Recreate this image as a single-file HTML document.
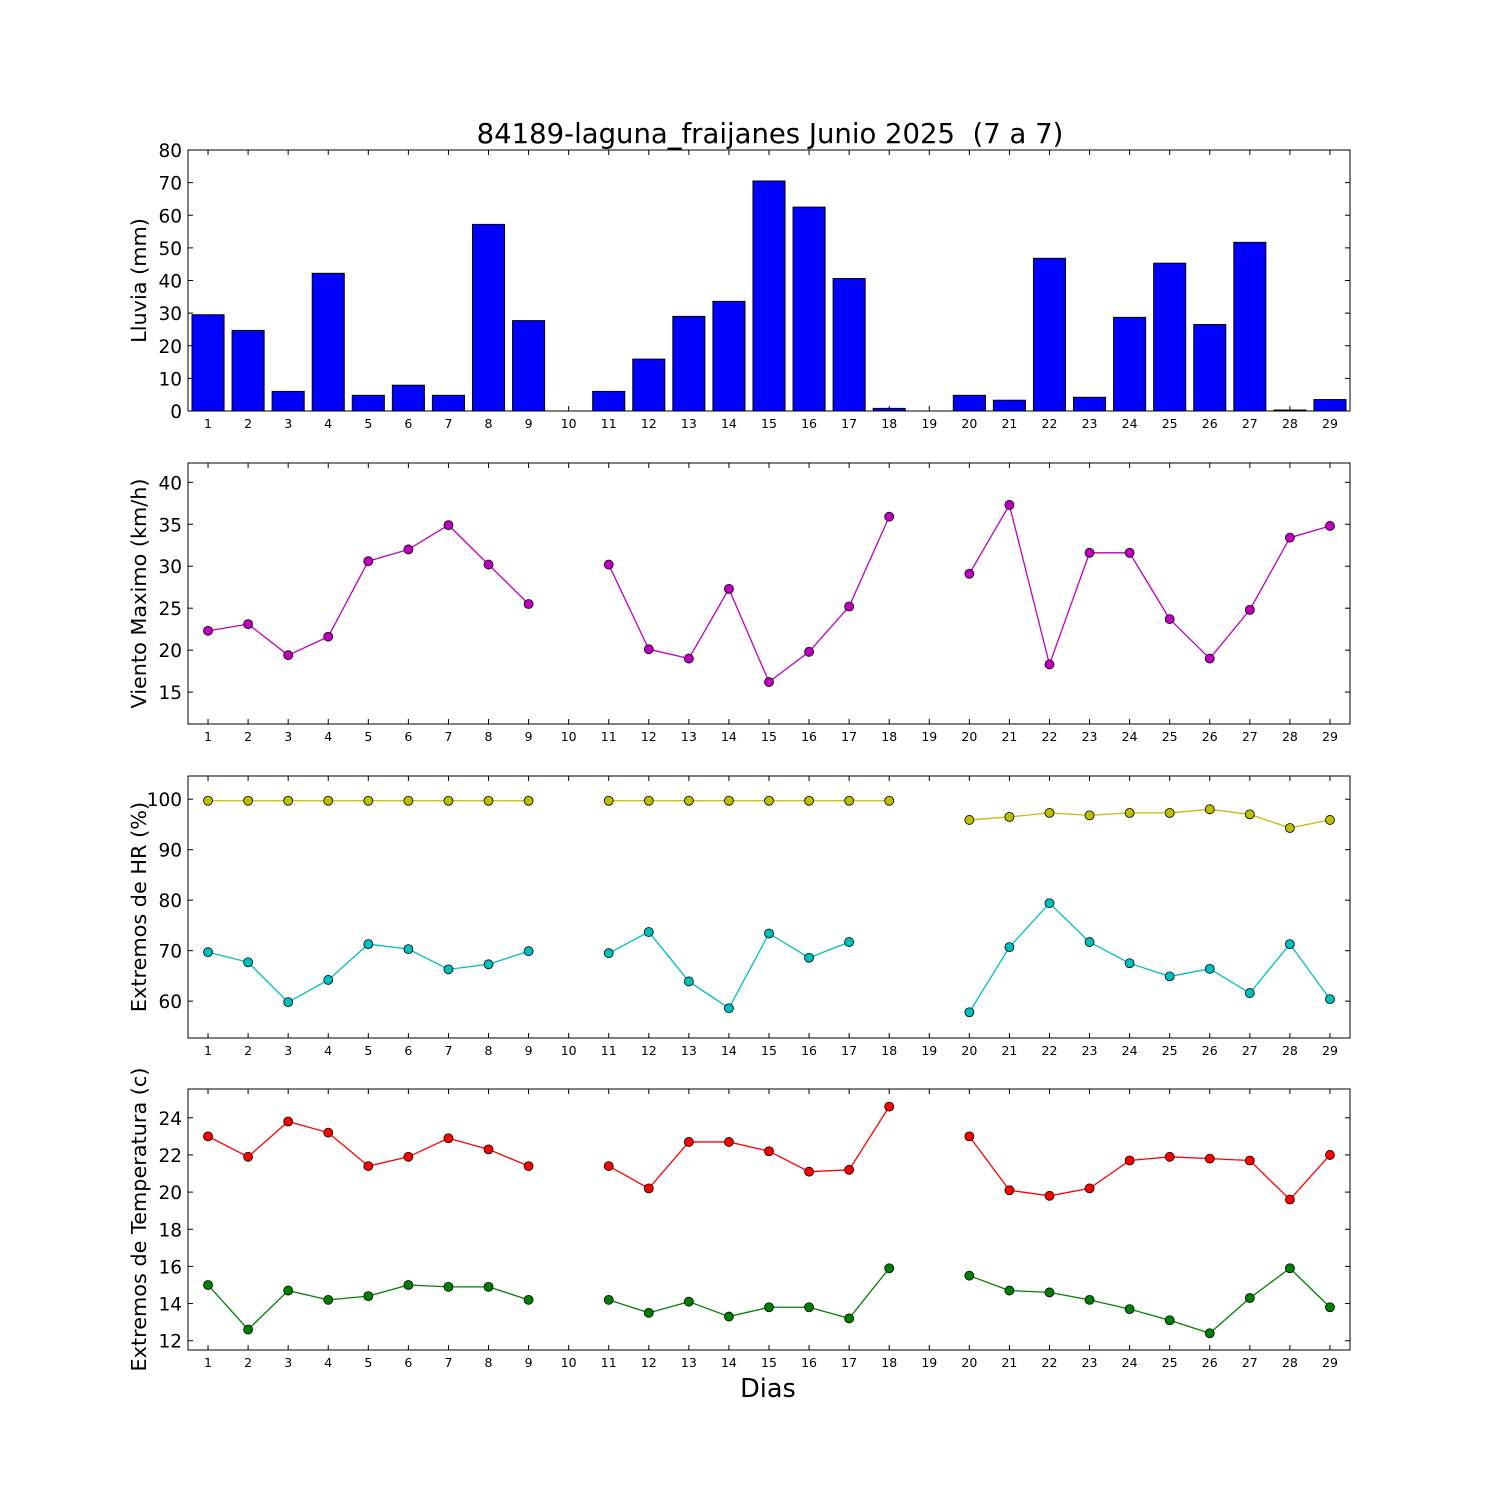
<!DOCTYPE html>
<html><head><meta charset="utf-8"><style>
html,body{margin:0;padding:0;background:#fff;}
svg{display:block;font-family:"DejaVu Sans","Liberation Sans",sans-serif;}
</style></head><body>
<svg id="chart" width="1500" height="1500" viewBox="0 0 1500 1500" xmlns="http://www.w3.org/2000/svg">
<rect width="1500" height="1500" fill="#fff"/>
<text x="770" y="143" font-size="27.5" text-anchor="middle" style="white-space:pre">84189-laguna_fraijanes Junio 2025  (7 a 7)</text>
<text x="768" y="1397" font-size="25.5" text-anchor="middle">Dias</text>
</svg>
<script>
const days = [1,2,3,4,5,6,7,8,9,10,11,12,13,14,15,16,17,18,19,20,21,22,23,24,25,26,27,28,29];
const rain = [29.5,24.7,6,42.2,4.8,7.9,4.8,57.2,27.7,0,6,15.9,29,33.6,70.5,62.5,40.6,0.8,0,4.8,3.3,46.8,4.2,28.7,45.3,26.5,51.7,0.3,3.5];
const wind = [22.3,23.1,19.4,21.6,30.6,32,34.9,30.2,25.5,null,30.2,20.1,19,27.3,16.2,19.8,25.2,35.9,null,29.1,37.3,18.3,31.6,31.6,23.7,19,24.8,33.4,34.8];
const hrMax = [99.7,99.7,99.7,99.7,99.7,99.7,99.7,99.7,99.7,null,99.7,99.7,99.7,99.7,99.7,99.7,99.7,99.7,null,95.9,96.5,97.3,96.8,97.3,97.3,98,97,94.3,95.9];
const hrMin = [69.7,67.7,59.8,64.2,71.3,70.3,66.3,67.3,69.9,null,69.5,73.7,63.9,58.6,73.4,68.6,71.7,null,null,57.8,70.7,79.4,71.7,67.5,64.9,66.4,61.6,71.3,60.4];
const tMax = [23,21.9,23.8,23.2,21.4,21.9,22.9,22.3,21.4,null,21.4,20.2,22.7,22.7,22.2,21.1,21.2,24.6,null,23,20.1,19.8,20.2,21.7,21.9,21.8,21.7,19.6,22];
const tMin = [15,12.6,14.7,14.2,14.4,15,14.9,14.9,14.2,null,14.2,13.5,14.1,13.3,13.8,13.8,13.2,15.9,null,15.5,14.7,14.6,14.2,13.7,13.1,12.4,14.3,15.9,13.8];
const rainTicks = [0,10,20,30,40,50,60,70,80];
const windTicks = [15,20,25,30,35,40];
const hrTicks = [60,70,80,90,100];
const tTicks = [12,14,16,18,20,22,24];

const NS = "http://www.w3.org/2000/svg";
const svg = document.getElementById('chart');
const L = 188, R = 1350;
function xs(d){ return L + (d - 0.5) * (R - L) / 29; }
function mk(tag, attrs, parent){ const e = document.createElementNS(NS, tag); for (const k in attrs) e.setAttribute(k, attrs[k]); (parent||svg).appendChild(e); return e; }

function panel(name, top, bot, y0, y1, ticks, label){
  const g = mk('g', {});
  
  
  const ys = v => bot - (v - y0) / (y1 - y0) * (bot - top);
  days.forEach(d => {
    const x = xs(d);
    mk('line', {x1:x, x2:x, y1:bot, y2:bot-5, stroke:'#000', 'stroke-width':1}, g);
    mk('line', {x1:x, x2:x, y1:top, y2:top+5, stroke:'#000', 'stroke-width':1}, g);
    const t = mk('text', {x:x, y:bot+17, 'font-size':12.5, 'text-anchor':'middle'}, g);
    
    
    t.textContent = d;
  });
  ticks.forEach(v => {
    const y = ys(v);
    mk('line', {x1:L, x2:L+5, y1:y, y2:y, stroke:'#000', 'stroke-width':1}, g);
    mk('line', {x1:R, x2:R-5, y1:y, y2:y, stroke:'#000', 'stroke-width':1}, g);
    const t = mk('text', {x:L-6, y:y+7, 'font-size':18.5, 'text-anchor':'end'}, g);
    
    
    t.textContent = v;
  });
  const yl = mk('text', {x:0, y:0, 'font-size':20.8, 'text-anchor':'middle', transform:`translate(146,${(top+bot)/2}) rotate(-90)`}, g);
  
  
  yl.textContent = label;
  return {g, ys, top, bot};
}
function frame(p){ mk('rect', {x:L, y:p.top, width:R-L, height:p.bot-p.top, fill:'none', stroke:'#000', 'stroke-width':1}, p.g); }
function series(p, vals, color, name){
  let seg = [];
  const segs = [];
  vals.forEach((v,i) => { if (v === null) { if (seg.length) segs.push(seg); seg = []; } else seg.push([xs(days[i]), p.ys(v)]); });
  if (seg.length) segs.push(seg);
  segs.forEach(s => {
    const pl = mk('polyline', {points: s.map(q=>q.join(',')).join(' '), fill:'none', stroke:color, 'stroke-width':1.3}, p.g);
    
    
  });
  vals.forEach((v,i) => {
    if (v === null) return;
    const c = mk('circle', {cx:xs(days[i]), cy:p.ys(v), r:4.5, fill:color, stroke:'#000', 'stroke-width':0.8}, p.g);
    
    
  });
}

const p1 = panel('rain', 150, 411, 0, 80, rainTicks, 'Lluvia (mm)');
const bw = 0.8 * (R - L) / 29;
rain.forEach((v,i) => {
  const y = p1.ys(v);
  const b = mk('rect', {x:xs(days[i]) - bw/2, y:y, width:bw, height:p1.bot - y, fill:'#0000ff', stroke:'#000', 'stroke-width':1}, p1.g);
  
  
});
frame(p1);

const p2 = panel('wind', 463, 724, 11.2, 42.3, windTicks, 'Viento Maximo (km/h)');
series(p2, wind, '#bf00bf', 'wind');
frame(p2);

const p3 = panel('humidity', 776, 1038, 52.7, 104.6, hrTicks, 'Extremos de HR (%)');
series(p3, hrMax, '#bfbf00', 'hr-max');
series(p3, hrMin, '#00bfbf', 'hr-min');
frame(p3);

const p4 = panel('temperature', 1089, 1350, 11.5, 25.55, tTicks, 'Extremos de Temperatura (c)');
series(p4, tMax, '#ff0000', 't-max');
series(p4, tMin, '#008000', 't-min');
frame(p4);
</script>
</body></html>
